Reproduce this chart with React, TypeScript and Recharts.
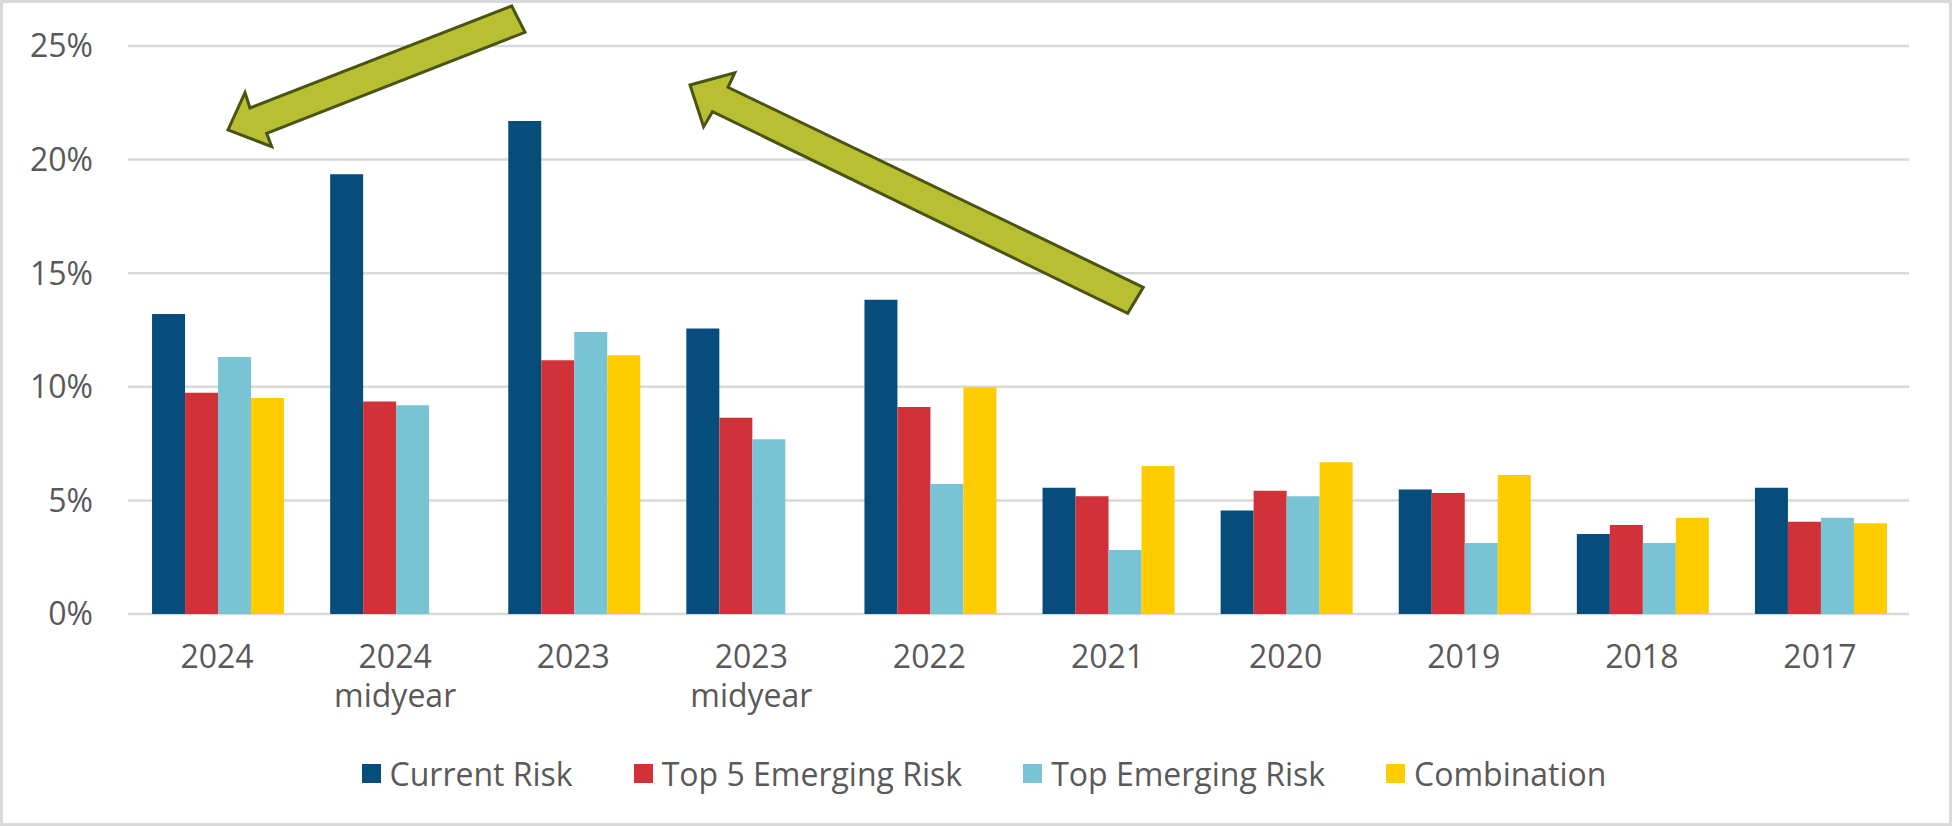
import { BarChart, Bar, XAxis, YAxis, CartesianGrid, Legend } from "recharts";

const categories = ["2024", "2024\nmidyear", "2023", "2023\nmidyear", "2022", "2021", "2020", "2019", "2018", "2017"];
const currentRisk = [13.2, 19.35, 21.7, 12.57, 13.83, 5.56, 4.55, 5.48, 3.52, 5.56];
const top5Emerging = [9.74, 9.35, 11.17, 8.64, 9.11, 5.18, 5.42, 5.33, 3.92, 4.06];
const topEmerging = [11.31, 9.19, 12.41, 7.69, 5.72, 2.82, 5.18, 3.13, 3.13, 4.24];
const combination = [9.51, null, 11.39, null, 9.98, 6.51, 6.68, 6.12, 4.24, 3.99];
const yTicks = [0, 5, 10, 15, 20, 25];

const series = [
  { key: "current", name: "Current Risk", color: "#064D7C" },
  { key: "top5", name: "Top 5 Emerging Risk", color: "#D13239" },
  { key: "top", name: "Top Emerging Risk", color: "#78C3D4" },
  { key: "combo", name: "Combination", color: "#FFCC00" },
];

const data = categories.map((c, i) => ({
  label: c,
  current: currentRisk[i],
  top5: top5Emerging[i],
  top: topEmerging[i],
  combo: combination[i],
}));

const FONT = "'Open Sans', sans-serif";
const TEXT = "#595959";

const CategoryTick = ({ x, y, payload }: any) => {
  const lines = String(payload.value).split("\n");
  return (
    <text x={x} y={y} textAnchor="middle" fill={TEXT} fontSize={32} fontFamily={FONT}>
      {lines.map((l, i) => (
        <tspan key={i} x={x} dy={i === 0 ? 54 : 39}>
          {l}
        </tspan>
      ))}
    </text>
  );
};

const LegendContent = () => (
  <div style={{ display: "flex", justifyContent: "center", alignItems: "center", height: 40, paddingLeft: 16, fontFamily: FONT, fontSize: 32, color: TEXT }}>
    {series.map((s, i) => (
      <div key={s.key} style={{ display: "flex", alignItems: "center", marginLeft: i === 0 ? 0 : 61 }}>
        <span style={{ width: 19, height: 19, background: s.color, display: "inline-block", marginRight: 9 }} />
        <span>{s.name}</span>
      </div>
    ))}
  </div>
);

// the two olive annotation arrows
const arrows = [
  "511.7,6 250,108 245,92.7 228,130 271.7,146.7 266.7,133.3 525,32.3",
  "690,85 734.8,72.7 728,87.3 1143.3,287.3 1127.7,313.3 712.5,111.7 703.6,126.7",
];

export default function App() {
  return (
    <div style={{ position: "absolute", left: 0, top: 0, width: 1952, height: 826, background: "#fff" }}>
      <div style={{ position: "absolute", inset: 0, border: "3px solid #D9D9D9", boxSizing: "border-box" }} />
      <BarChart
        width={1952}
        height={826}
        data={data}
        margin={{ top: 46, right: 43, bottom: 33, left: 0 }}
        barCategoryGap="13.5%"
        barGap={0}
      >
        <CartesianGrid vertical={false} stroke="#D9D9D9" strokeWidth={2.5} />
        <XAxis
          dataKey="label"
          axisLine={false}
          tickLine={false}
          tickSize={0}
          tickMargin={0}
          height={139}
          interval={0}
          tick={<CategoryTick />}
        />
        <YAxis
          width={128}
          domain={[0, 25]}
          ticks={yTicks}
          axisLine={false}
          tickLine={false}
          tickSize={0}
          tickMargin={35}
          tickFormatter={(v) => `${v}%`}
          tick={{ fill: TEXT, fontSize: 32, fontFamily: FONT }}
        />
        <Legend verticalAlign="bottom" content={<LegendContent />} wrapperStyle={{ left: 0, width: 1952 }} />
        {series.map((s) => (
          <Bar key={s.key} dataKey={s.key} name={s.name} fill={s.color} isAnimationActive={false} />
        ))}
      </BarChart>
      <svg width={1952} height={826} style={{ position: "absolute", left: 0, top: 0, pointerEvents: "none" }}>
        {arrows.map((p, i) => (
          <polygon key={i} points={p} fill="#B9BF33" stroke="#4A5412" strokeWidth={3} strokeLinejoin="miter" />
        ))}
      </svg>
    </div>
  );
}
